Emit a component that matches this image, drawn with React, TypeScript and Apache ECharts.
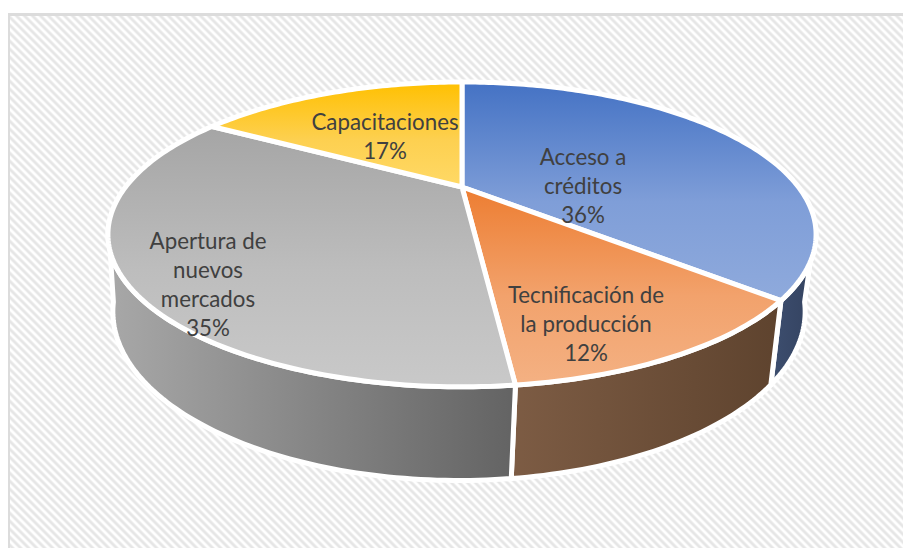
import React, { useEffect, useRef } from "react";
import * as echarts from "echarts";

const categories = ["Acceso a\ncréditos", "Tecnificación de\nla producción", "Apertura de\nnuevos\nmercados", "Capacitaciones"];
const shares = [36.4, 11.85, 35.25, 16.5];

const topColors = [["#4472c4", "#7f9ed8", "#8faadc"], ["#ed7d31", "#f2a26c", "#f4b183"], ["#a5a5a5", "#bdbdbd", "#c9c9c9"], ["#ffc000", "#fdd050", "#ffd966"]];
const sideColors = [["#3d4e6f", "#33425f"], ["#7d5c44", "#5e432e"], ["#a8a8a8", "#636363"], ["#7f6000", "#7f6000"]];
const labelAnchors = [[583, 185], [586, 323], [208, 284], [385, 136]];

const TOP = { cx: 462, y0: 187, a: 336.5, b: 137.7, q: 0.311 };
const BOTTOM = { cx: 459, y0: 259, a: 329, b: 152.6, q: 0.311 };
const SIDE_FROM = 105;
const SIDE_TO = 255;

const project = (p: typeof TOP, deg: number) => {
  const t = (deg * Math.PI) / 180;
  const u = Math.sin(t);
  const v = -Math.cos(t);
  const w = 1 - p.q * v;
  return [p.cx + (p.a * u) / w, p.y0 + (p.b * v) / w];
};
const arc = (p: typeof TOP, from: number, to: number) => {
  const n = Math.max(2, Math.ceil(Math.abs(to - from)));
  const pts: number[][] = [];
  for (let i = 0; i <= n; i++) pts.push(project(p, from + ((to - from) * i) / n));
  return pts;
};
const total = shares.reduce((s, v) => s + v, 0);
const spanOf = (idx: number) => {
  let before = 0;
  for (let i = 0; i < idx; i++) before += shares[i];
  return [(before / total) * 360, ((before + shares[idx]) / total) * 360];
};
const grad = (c: string[], horizontal: boolean) =>
  new echarts.graphic.LinearGradient(
    0,
    0,
    horizontal ? 1 : 0,
    horizontal ? 0 : 1,
    c.map((color, k) => ({ offset: c.length === 3 ? [0, 0.55, 1][k] : k, color }))
  );

const makeHatch = () => {
  const size = 8;
  const c = document.createElement("canvas");
  c.width = size;
  c.height = size;
  const g = c.getContext("2d")!;
  const shades = ["#e6e6e6", "#e6e6e6", "#ebebeb", "#f6f6f6", "#ffffff", "#ffffff", "#fafafa", "#eeeeee"];
  for (let y = 0; y < size; y++) {
    for (let x = 0; x < size; x++) {
      g.fillStyle = shades[(x - y + size * 2) % size];
      g.fillRect(x, y, 1, 1);
    }
  }
  return c;
};

export default function App() {
  const ref = useRef<HTMLDivElement>(null);
  useEffect(() => {
    const chart = echarts.init(ref.current!, null, { renderer: "svg" });
    const data = shares.map((v, i) => [i, v]);
    chart.setOption({
      animation: false,
      backgroundColor: "#ffffff",
      graphic: [
        {
          type: "rect",
          z: -10,
          silent: true,
          shape: { x: 8, y: 13, width: 895, height: 535 },
          style: { fill: { image: makeHatch(), repeat: "repeat" } as any },
        },
        { type: "rect", z: -9, silent: true, shape: { x: 8, y: 13, width: 895, height: 3 }, style: { fill: "#dcdcdc" } },
        { type: "rect", z: -9, silent: true, shape: { x: 8, y: 13, width: 2, height: 535 }, style: { fill: "#dcdcdc" } },
      ],
      series: [
        {
          type: "custom",
          coordinateSystem: "none",
          silent: true,
          z: 2,
          data,
          renderItem: (_p: any, api: any) => {
            const i = api.value(0);
            const [s, e] = spanOf(i);
            const from = Math.max(s, SIDE_FROM);
            const to = Math.min(e, SIDE_TO);
            if (to <= from) return { type: "group", children: [] };
            const pts = arc(TOP, from, to).concat(arc(BOTTOM, to, from));
            return {
              type: "polygon",
              shape: { points: pts },
              style: { fill: grad(sideColors[i], true), stroke: "#ffffff", lineWidth: 5, lineJoin: "round" },
            };
          },
        },
        {
          type: "custom",
          coordinateSystem: "none",
          silent: true,
          z: 3,
          data,
          renderItem: (_p: any, api: any) => {
            const i = api.value(0);
            const [s, e] = spanOf(i);
            const pts = [[TOP.cx, TOP.y0]].concat(arc(TOP, s, e));
            return {
              type: "polygon",
              shape: { points: pts },
              style: { fill: grad(topColors[i], false), stroke: "#ffffff", lineWidth: 5, lineJoin: "round" },
            };
          },
        },
        {
          type: "custom",
          coordinateSystem: "none",
          silent: true,
          z: 4,
          data,
          renderItem: (_p: any, api: any) => {
            const i = api.value(0);
            return {
              type: "text",
              x: labelAnchors[i][0],
              y: labelAnchors[i][1],
              style: {
                text: `${categories[i]}\n${Math.round(api.value(1))}%`,
                fill: "#404040",
                font: '22.3px Lato, "Open Sans", sans-serif',
                lineHeight: 29,
                align: "center",
                verticalAlign: "middle",
              },
            };
          },
        },
      ],
    });
    return () => chart.dispose();
  }, []);
  return <div ref={ref} style={{ position: "absolute", left: 0, top: 0, width: 903, height: 548 }} />;
}
